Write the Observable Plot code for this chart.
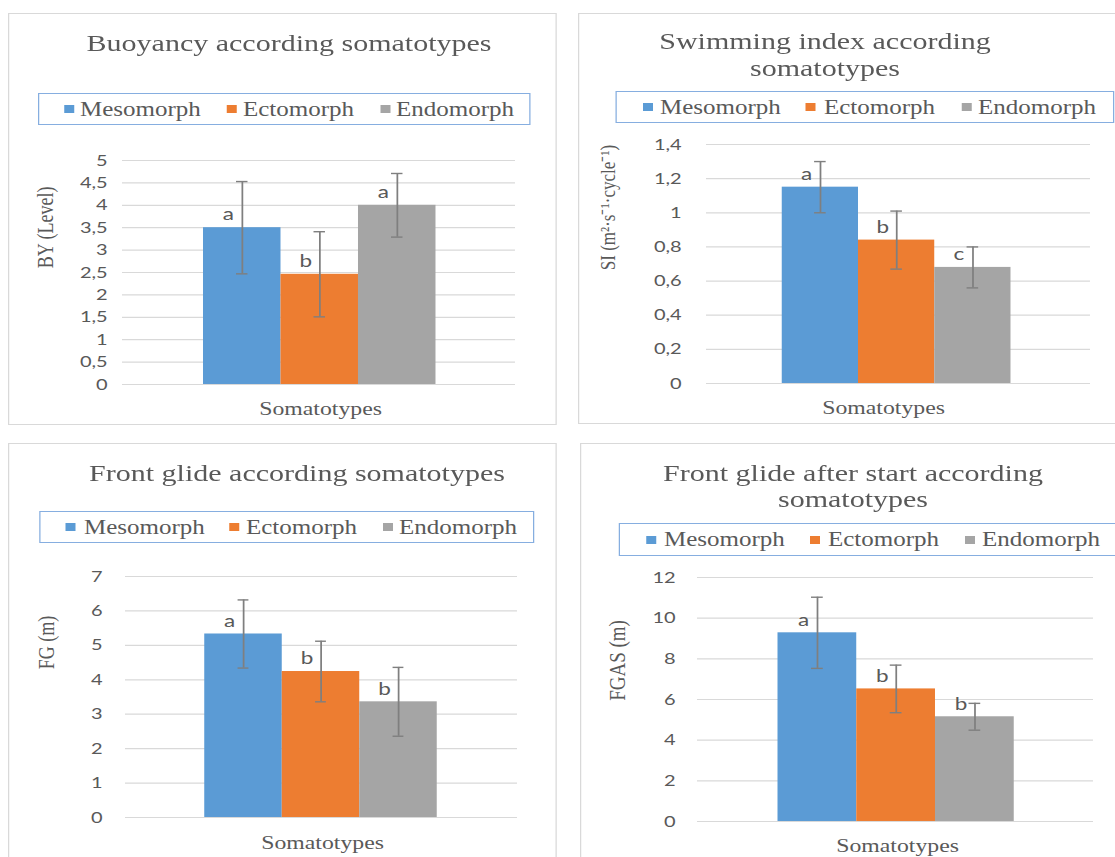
<!DOCTYPE html>
<html>
<head>
<meta charset="utf-8">
<script src="https://cdn.jsdelivr.net/npm/d3@7"></script>
<script src="https://cdn.jsdelivr.net/npm/@observablehq/plot@0.6"></script>
<style>
html, body { margin: 0; padding: 0; background: #fff; overflow: hidden; width: 1115px; height: 857px; }
#root { position: relative; width: 1115px; height: 857px; overflow: hidden; background: #fff; }
.panel { position: absolute; top: 0; }
.inner { position: absolute; left: 0; top: 0; transform-origin: 0 0; }
.frame { position: absolute; border: 1.6px solid #d9d9d9; box-sizing: border-box; background: #fff; }
.title { position: absolute; font-family: "Liberation Serif", serif; color: #595959; text-align: center; white-space: nowrap; font-size: 24px; line-height: 27px; }
.legend { position: absolute; border: 1.4px solid #86aee0; box-sizing: border-box; }
.sw { position: absolute; width: 8px; height: 8px; }
.lt { position: absolute; font-family: "Liberation Serif", serif; color: #595959; font-size: 20px; white-space: nowrap; }
svg { position: absolute; left: 0; overflow: visible; }
</style>
</head>
<body>
<div id="root"></div>
<script>
// ---------- data ----------
const groups = ["Mesomorph", "Ectomorph", "Endomorph"];
const colors = ["#5b9bd5", "#ed7d31", "#a5a5a5"];

const byMean = [3.50, 2.46, 4.00];
const bySd = [1.03, 0.95, 0.71];
const byLetters = ["a", "b", "a"];
const byTicks = [0, 0.5, 1, 1.5, 2, 2.5, 3, 3.5, 4, 4.5, 5];

const siMean = [1.15, 0.84, 0.68];
const siSd = [0.15, 0.17, 0.12];
const siLetters = ["a", "b", "c"];
const siTicks = [0, 0.2, 0.4, 0.6, 0.8, 1, 1.2, 1.4];

const fgMean = [5.33, 4.24, 3.36];
const fgSd = [0.99, 0.88, 1.00];
const fgLetters = ["a", "b", "b"];
const fgTicks = [0, 1, 2, 3, 4, 5, 6, 7];

const fgasMean = [9.28, 6.52, 5.15];
const fgasSd = [1.75, 1.17, 0.66];
const fgasLetters = ["a", "b", "b"];
const fgasTicks = [0, 2, 4, 6, 8, 10, 12];

const xLabel = "Somatotypes";

// ---------- layout (page pixels) ----------
const K = 1.25; // horizontal stretch of the reference rendering

const panels = [
  {
    title: ["Buoyancy according somatotypes"], titleCx: 289, titleBase: [52],
    frame: {x: 8, y: 13, w: 549, h: 412},
    legend: {x0: 38, x1: 531, y0: 93, y1: 125, sq: [64, 227, 381], tx: [80, 243, 396]},
    grid: [122, 515], bars: [202, 436], yTop: 160, yBottom: 384, svgTop: 140, svgBottom: 424, tickRight: 107,
    mean: byMean, sd: bySd, letters: byLetters, ticks: byTicks, max: 5,
    yLabel: "BY (Level)", yLabelPos: [45, 227], yLabelSize: 18, xLabelPos: [320, 408]
  },
  {
    title: ["Swimming index according", "somatotypes"], titleCx: 825, titleBase: [50, 77],
    frame: {x: 578, y: 13, w: 548, h: 411},
    legend: {x0: 616, x1: 1114, y0: 91, y1: 123, sq: [643, 806, 962], tx: [660, 824, 978]},
    grid: [706, 1090], bars: [781, 1011], yTop: 144, yBottom: 383, svgTop: 124, svgBottom: 424, tickRight: 681,
    mean: siMean, sd: siSd, letters: siLetters, ticks: siTicks, max: 1.4,
    yLabel: "SI (m²·s⁻¹·cycle⁻¹)", yLabelPos: [608, 207], yLabelSize: 17, xLabelPos: [883, 407]
  },
  {
    title: ["Front glide according somatotypes"], titleCx: 297, titleBase: [482],
    frame: {x: 8, y: 443, w: 549, h: 420},
    legend: {x0: 39, x1: 534, y0: 511, y1: 543, sq: [66, 229, 383], tx: [84, 246, 399]},
    grid: [125, 517], bars: [203, 439], yTop: 576, yBottom: 817, svgTop: 556, svgBottom: 857, tickRight: 102,
    mean: fgMean, sd: fgSd, letters: fgLetters, ticks: fgTicks, max: 7,
    yLabel: "FG (m)", yLabelPos: [46, 642], yLabelSize: 18, xLabelPos: [322, 842]
  },
  {
    title: ["Front glide after start according", "somatotypes"], titleCx: 853, titleBase: [482, 508],
    frame: {x: 580, y: 443, w: 548, h: 420},
    legend: {x0: 619, x1: 1118, y0: 523, y1: 556, sq: [646, 810, 965], tx: [664, 828, 982]},
    grid: [697, 1093], bars: [777, 1014], yTop: 577, yBottom: 821, svgTop: 557, svgBottom: 857, tickRight: 675,
    mean: fgasMean, sd: fgasSd, letters: fgasLetters, ticks: fgasTicks, max: 12,
    yLabel: "FGAS (m)", yLabelPos: [617, 660], yLabelSize: 19, xLabelPos: [897, 845]
  }
];

const root = document.getElementById("root");

function el(cls, css, parent, text) {
  const d = document.createElement("div");
  d.className = cls;
  Object.assign(d.style, css);
  if (text !== undefined) d.textContent = text;
  parent.appendChild(d);
  return d;
}

function buildPanel(c) {
  const fx = c.frame.x;
  const X = px => (px - fx) / K;
  const outer = el("panel", {left: fx + "px"}, root);
  const inner = el("inner", {width: (1200 - fx) / K + "px", height: "857px", transform: `scaleX(${K})`}, outer);

  el("frame", {left: "0px", top: c.frame.y + "px", width: c.frame.w / K + "px", height: c.frame.h + "px"}, inner);

  c.title.forEach((t, i) => {
    el("title", {left: (X(c.titleCx) - 300) + "px", width: "600px", top: (c.titleBase[i] - 21.6) + "px"}, inner, t);
  });

  const L = c.legend;
  const lh = L.y1 - L.y0;
  el("legend", {left: X(L.x0) + "px", top: L.y0 + "px", width: (L.x1 - L.x0) / K + "px", height: lh + "px"}, inner);
  groups.forEach((g, i) => {
    el("sw", {left: X(L.sq[i]) + "px", top: (L.y0 + lh / 2 - 4) + "px", background: colors[i]}, inner);
    el("lt", {left: X(L.tx[i]) + "px", top: L.y0 + "px", height: lh + "px", lineHeight: lh + "px"}, inner, g);
  });

  const data = groups.map((g, i) => ({g, mean: c.mean[i], sd: c.sd[i], letter: c.letters[i]}));
  const width = c.frame.w / K;
  const marginLeft = X(c.grid[0]);
  const marginRight = width - X(c.grid[1]);
  const marginTop = c.yTop - c.svgTop;
  const marginBottom = c.svgBottom - c.yBottom;
  const height = c.svgBottom - c.svgTop;
  const bw = (c.bars[1] - c.bars[0]) / 3 / K;
  const capInset = (bw - 12 / K) / 2;
  const frameMidX = (marginLeft + width - marginRight) / 2;
  const frameMidY = (c.yTop + c.yBottom) / 2;
  const fmt = d => String(d).replace(".", ",");
  const err = "#7f7f7f";

  const svg = Plot.plot({
    width, height, marginLeft, marginRight, marginTop, marginBottom,
    x: {domain: groups, range: [X(c.bars[0]), X(c.bars[1])], padding: 0, axis: null},
    y: {domain: [0, c.max], ticks: c.ticks, tickFormat: fmt, tickSize: 0, tickPadding: (c.grid[0] - c.tickRight) / K, label: null},
    color: {domain: groups, range: colors},
    style: {fontFamily: "Lato, sans-serif", fontSize: "16px", color: "#595959", background: "transparent", overflow: "visible"},
    marks: [
      Plot.ruleY(c.ticks, {stroke: "#d9d9d9", strokeWidth: 1.2}),
      Plot.barY(data, {x: "g", y: "mean", fill: "g"}),
      Plot.ruleX(data, {x: "g", y1: d => d.mean - d.sd, y2: d => d.mean + d.sd, stroke: err, strokeWidth: 1.4}),
      Plot.tickY(data, {x: "g", y: d => d.mean + d.sd, stroke: err, strokeWidth: 1.4, insetLeft: capInset, insetRight: capInset}),
      Plot.tickY(data, {x: "g", y: d => d.mean - d.sd, stroke: err, strokeWidth: 1.4, insetLeft: capInset, insetRight: capInset}),
      Plot.text(data, {x: "g", y: "mean", text: "letter", dx: -14 / K, dy: -13, fontSize: 18, fill: "#595959", fontFamily: "Lato, sans-serif"}),
      Plot.text([c.yLabel], {frameAnchor: "left", text: d => d, rotate: -90, textAnchor: "middle", dx: X(c.yLabelPos[0]) - marginLeft, dy: c.yLabelPos[1] - frameMidY,
        fontFamily: "Liberation Serif, serif", fontSize: c.yLabelSize, fill: "#595959", lineAnchor: "middle"}),
      Plot.text([xLabel], {frameAnchor: "bottom", text: d => d, textAnchor: "middle", dx: X(c.xLabelPos[0]) - frameMidX, dy: c.xLabelPos[1] - c.yBottom,
        fontFamily: "Liberation Serif, serif", fontSize: 19, fill: "#595959", lineAnchor: "middle"})
    ]
  });
  svg.style.top = c.svgTop + "px";
  inner.appendChild(svg);
}

panels.forEach(buildPanel);
</script>
</body>
</html>
